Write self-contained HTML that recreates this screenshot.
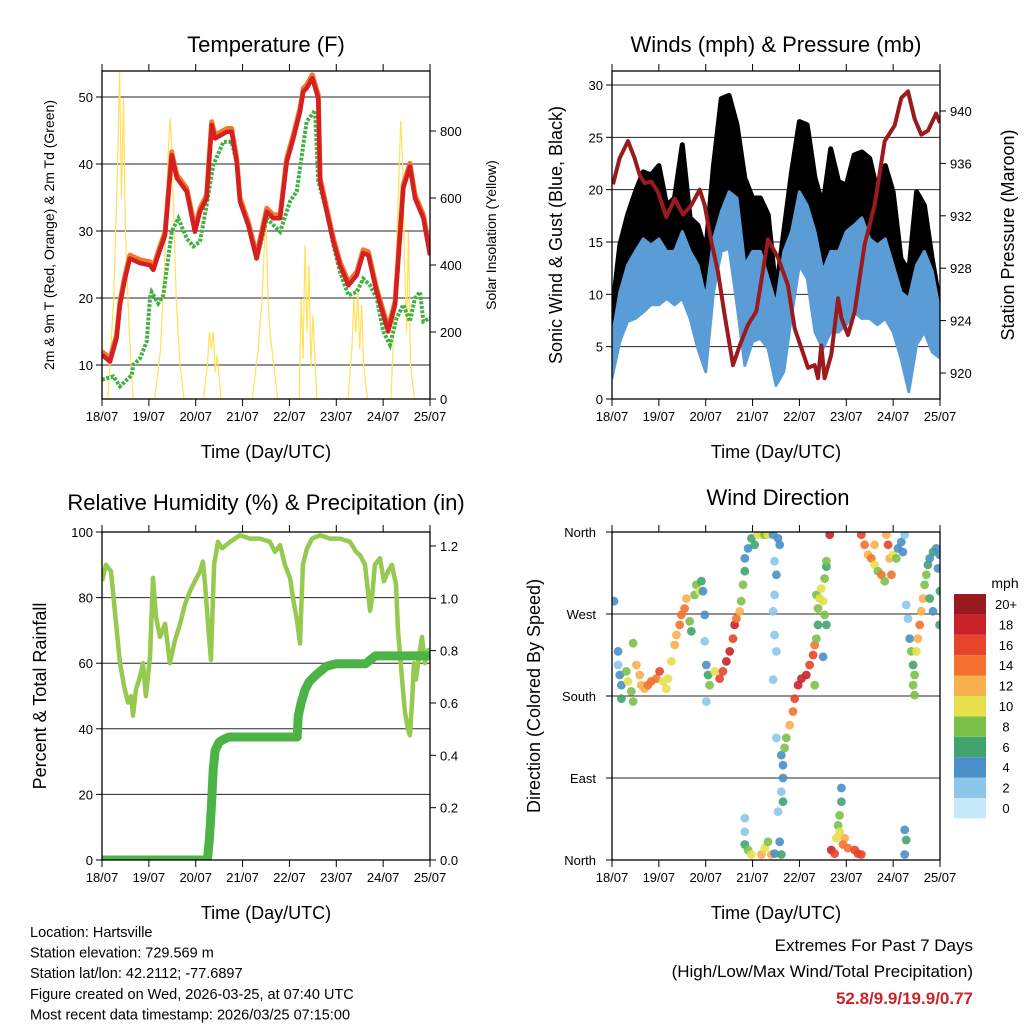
<!DOCTYPE html>
<html><head><meta charset="utf-8"><style>
body{margin:0;background:#fff}
svg{display:block;font-family:"Liberation Sans",sans-serif}
</style></head><body>
<svg id="s" width="1024" height="1024" viewBox="0 0 1024 1024" xmlns="http://www.w3.org/2000/svg">
<defs>
<clipPath id="c1"><rect x="102" y="71" width="328" height="328"/></clipPath>
<clipPath id="c2"><rect x="612" y="71" width="328" height="328"/></clipPath>
<clipPath id="c3"><rect x="102" y="532" width="328" height="328"/></clipPath>
<clipPath id="c4"><rect x="612" y="532" width="328" height="328"/></clipPath>
</defs>
</svg>
<script>
// ---- Temperature panel data ----
const tempHours=[0,4.1,7.5,9.2,11.8,14.3,19.5,24.6,26.3,28.8,32.3,35.7,38.3,43.4,47.6,50.2,53.6,56.2,57.9,63.9,66.4,69,70.7,74.9,79.2,84.4,87.7,91.2,94.6,98,101.4,103.1,104.8,107.7,110.8,111.7,115.1,118.5,121.9,126.2,130.5,133.8,136.4,140.7,146.6,150.1,154.3,157.7,160.3,164.6,168];
const tempVals=[11.5,10.5,14,19,22.9,25.9,25.2,24.9,24.2,26.4,29.4,41.3,37.9,35.9,29.9,32.9,34.9,45.8,43.8,44.8,44.8,40.3,34.4,30.9,25.9,32.9,31.9,31.9,40.3,43.8,47.8,50.8,51.3,52.8,49.8,37.4,32.9,28.4,24.9,21.9,23.4,26.7,26.4,20.9,15,19,36.4,39.6,34.9,31.9,26.4];
const dewHours=[0,5.8,9.2,15.2,16,19.5,22.9,24.6,25.4,28.8,31.4,35.7,39.1,43.4,46.8,50.2,53.6,57,62.2,66.4,69,70.7,74.9,79.2,84.4,87.7,91.2,96.3,99.7,104.8,109.1,110.8,115.1,118.5,121.9,126.2,130.5,133.8,137.3,140.7,144.1,147.5,150.9,154.3,157.7,160.3,162.9,164.6,168];
const dewVals=[7.8,8.3,6.8,8.5,10,11,13.5,20,20.9,19.2,20.4,29.9,31.9,28.9,27.7,28.4,33.9,39.9,43.3,43.3,40.3,34.4,30.9,25.7,31.9,30.9,29.9,34.4,35.9,46.3,48,37.4,32.9,27.9,23.9,20.4,20.9,22.9,21.9,20,15,13,17,19,16.5,20,20.9,16.5,17];
const solarHours=[0,3,6,8,9,10,11,12,14,16,27,30,32,34,35,36,38,40,42,52,54,55,56,57,58,59,61,77,80,82,84,85,86,88,90,101,102,103,104,105,106,107,108,110,126,128,129,130,131,132,133,134,136,148,150,152,153,154,155,156,157,158,160,168];
const solarVals=[0,0,300,700,980,600,900,500,200,0,0,150,400,750,840,700,300,100,0,0,100,200,150,200,80,130,0,0,150,300,570,300,200,100,0,0,300,120,460,200,400,100,250,0,0,150,300,200,320,150,280,100,0,0,300,650,830,700,400,200,500,100,0,0];
// ---- Wind panel data ----
const windHours=[0,4,8,12,16,20,24,28,32,36,40,44,48,52,56,60,64,68,72,76,80,84,88,92,96,100,104,108,112,116,120,124,128,132,136,140,144,148,152,156,160,164,168];
const windHi=[5.8,10.2,12.8,14.1,15.3,14.7,15.3,14.1,14.1,16,14.1,12.8,9.6,15.3,17.9,19.8,19.2,12.8,14.1,14.1,11.5,9,14.1,16,19.8,18.5,16,12.2,14.1,14.1,16,16.6,17.3,15.3,14.7,15.3,12.8,10.2,9.6,12.8,14.1,12.2,8.3];
const windLo=[2,5.5,7.4,7.7,8.3,9,9,9.6,9,9.6,7.7,4.8,2.6,10.2,14.1,14.4,9,3.2,5.5,5.8,4.8,1.3,2.6,8,12.8,11.5,6.4,4.8,6.4,6.4,7.1,8.3,7.7,7.7,7.1,7.7,6.4,3.9,0.7,5.2,6.4,4.5,3.9];
const gustHi=[8.2,14.7,17.6,19.8,21.7,21.4,22.3,18.5,19.2,24.3,17.3,16.6,14.1,22.3,28.7,29,26.2,21.1,19.2,19.2,17.6,10.2,16,21.7,26.5,26.2,21.1,18.5,23.9,20.8,20.4,23.3,23.6,23,19.8,22.3,19.8,13.4,12.2,19.8,18.5,13.4,9];
const gustLo=[5.5,7.7,9.6,11.5,12.8,12.2,12.2,11.8,11.2,11.5,9.6,7.7,3.9,14.1,17.6,19.2,13.4,5.5,9.6,10.2,7.7,3.9,4.5,12.2,18.5,18.5,10.2,8.3,11.5,9.9,11.5,14.1,12.8,11.5,9.6,12.2,11.5,7.1,3.9,9.6,9.6,7.7,6.4];
const presHours=[0.5,3.9,8.2,11.6,14.2,16.7,20.2,23.6,27.8,32.1,36.4,40.6,44.9,47.5,50.9,54.3,57.7,62,65.4,69.7,73.9,79.9,85,90.1,93.6,97,100.4,103.8,105.5,107.2,108.9,112.3,115.8,117.5,120.9,124.3,129.4,134.5,139.7,144.8,148.2,151.6,155,158.4,161.8,166,168];
const presVals=[934.4,936.4,937.7,936.4,935.1,934.5,934.6,933.8,931.9,933.3,932.1,932.8,934,932.8,930,927.7,924.4,920.6,922.1,923.7,924.7,930.2,928.8,926.7,923.4,921.9,920.4,920.6,919.6,922.1,919.6,921.4,925.7,924.2,922.9,924.7,929.8,932.8,937.7,938.9,941,941.5,939.4,938.2,938.5,939.8,939.1];
// ---- RH / precip data ----
const rhHours=[0,2,4.6,7.2,9.2,11.3,13.3,14.9,15.9,17.4,19.5,21,22.5,24.6,26.1,27.7,29.7,32.3,34.8,37.4,40,42.5,45.1,47.6,50.2,51.7,52.8,54.3,55.8,57.4,59.4,61.5,65.6,70.7,75.8,80.9,86,88.6,91.2,93.7,96.3,97.8,99.9,101.4,102.9,105,107.6,111.7,116.8,121.9,127,130.1,132.1,134.7,136.2,137.3,138.3,139.8,142.4,144.4,146.5,148.5,150.6,151.6,153.7,155.2,156.7,157.7,158.8,159.8,160.8,162.9,163.9,165.4,167,168];
const rhVals=[85,90,88,72,60,53,48,50,44,52,56,60,50,62,86,74,68,72,60,67,72,78,82,85,88,91,84,72,61,90,97,95,97,99,98,98,97,94,96,90,86,80,73,66,90,95,98,99,98,98,97,94,93,90,82,76,80,90,92,85,88,90,84,70,55,45,40,38,48,60,55,64,68,60,64,62];
const precipHours=[0,54,55,56,57,58,60,62,65,100,100.5,102,104,106,110,115,120,135,140,168];
const precipVals=[0,0,0.08,0.2,0.35,0.42,0.45,0.46,0.47,0.47,0.55,0.6,0.65,0.68,0.71,0.74,0.75,0.75,0.78,0.78];
// ---- Wind direction data ----
const dirHours=[1,3.1,3.1,4,4.8,4.8,7.3,8.2,9.9,10.8,12.5,14.2,15,16.7,18.4,20.1,22.7,24.4,26.1,27.8,28.7,10.8,30.4,32.1,33,34.7,35.5,37.2,38.1,39.8,40.6,42.3,43.2,44.9,45.8,46.6,47.5,47.5,48.3,49.2,50,48.3,52.6,55.1,56.8,58.6,60.3,62,62.8,63.7,65.4,66.2,67.1,68,68,69.7,71.4,73.1,74.8,76.5,78.2,79.9,82.5,85,85.9,83.3,84.2,83.3,82.5,83.3,84.2,82.5,84.2,86.7,87.6,87.6,86.7,85,87.6,88.4,89.3,91,92.7,93.6,95.3,97,99.5,101.2,103,103.8,104.7,105.5,105.5,104.7,106.4,107.2,108.1,108.9,109.8,108.9,109.8,109.8,103.8,108.1,111.5,127.7,129.4,131.1,132.8,134.5,136.2,138,139.7,141.4,142.2,143.1,144,145.6,146.5,148.2,149,149.9,140.5,134.5,150.7,151.6,152.5,153.3,154.2,155,154.2,155,155.9,156.7,157.6,158.4,159.3,160.1,161,161.8,162.7,164.4,166.1,167,167.8,168,167.8,162.7,164.4,68,68,68,69.7,71.4,76.5,78.2,79.9,81.6,83.3,85.9,86.7,112.3,114,117.5,117.5,116.6,115.8,116.6,119.2,118.3,120.9,124.3,126,127.7,114.9,149.9,150.7,149.9];
const dirDegs=[284,229,214,203,192,177,207,196,185,174,214,203,192,188,192,196,199,207,196,188,199,238,218,236,247,258,269,276,287,262,251,291,302,295,306,295,269,240,214,203,192,174,207,199,207,218,229,243,258,265,273,284,302,317,331,342,353,346,357,357,357,357,357,353,346,328,313,291,273,247,229,198,134,115,104,90,75,53,64,123,134,148,163,177,192,199,203,214,225,236,243,258,276,291,287,298,284,269,258,309,322,328,192,223,357,357,346,335,331,324,317,313,306,346,331,313,335,331,342,349,338,357,357,346,280,265,243,229,214,203,192,181,229,243,258,273,287,302,313,324,331,338,342,320,335,295,258,287,273,46,31,17,11,6,6,13,20,6,7,20,6,11,7,79,64,49,38,31,24,17,13,11,7,6,24,33,22,6];
const dirSpeeds=[4,4,3,4,5,6,9,10,8,9,12,13,12,12,15,15,14,16,11,10,10,8,10,12,13,14,15,15,12,9,7,8,8,10,6,4,4,3,4,7,8,2,10,16,17,18,18,17,18,15,12,8,8,6,5,5,7,7,10,11,9,10,4,4,4,3,4,3,2,3,2,2,3,4,4,4,3,2,6,8,9,12,14,17,18,19,18,17,16,14,8,6,8,9,10,11,10,9,6,8,7,8,9,4,18,16,14,12,15,11,9,14,9,16,13,15,10,9,5,5,4,3,12,12,3,2,4,8,7,9,8,9,11,13,14,13,12,9,8,6,5,6,4,4,4,6,6,7,5,3,2,6,8,11,12,10,9,13,4,4,6,18,17,4,7,8,9,11,12,14,15,16,16,17,10,4,6,5];
const speedColors=['#c6e9f9','#8cc6ea','#4a8fc8','#41a46e','#7cc04a','#e6e04c','#f8b04e','#f3722f','#e6452b','#c9222a','#9a1b1f'];
const speedLabels=['0','2','4','6','8','10','12','14','16','18','20+'];
const dayLabels=['18/07','19/07','20/07','21/07','22/07','23/07','24/07','25/07'];

const NS='http://www.w3.org/2000/svg';
const svg=document.getElementById('s');
function el(tag,attrs,parent){const e=document.createElementNS(NS,tag);for(const k in attrs)e.setAttribute(k,attrs[k]);(parent||svg).appendChild(e);return e;}
function txt(s,x,y,size,anchor,parent,extra){const t=el('text',Object.assign({x:x,y:y,'font-size':size,'text-anchor':anchor||'middle',fill:'#000'},extra||{}),parent);t.textContent=s;return t;}
function pts(xs,ys,fx,fy){return xs.map((h,i)=>fx(h).toFixed(1)+','+fy(ys[i]).toFixed(1)).join(' ');}

function xAxis(x0,yb,yt){const fx=h=>x0+h*328/168;
 for(let d=0;d<=7;d++){const x=fx(d*24);
  const t1=el('line',{x1:x,y1:yb,x2:x,y2:yb+7,stroke:'#000','stroke-width':1});
  
  
  el('line',{x1:x,y1:yt,x2:x,y2:yt-7,stroke:'#000','stroke-width':1});
  const l=txt(dayLabels[d],x,yb+22,13);
  
  
 }
 return fx;}
function frame(x0,y0,name){const r=el('rect',{x:x0,y:y0,width:328,height:328,fill:'none',stroke:'#000','stroke-width':1.3});
 
 }
function grid(x0,y,name){const g=el('line',{x1:x0,y1:y,x2:x0+328,y2:y,stroke:'#000','stroke-width':1,opacity:0.85});
 
 }
function yTick(x,y,side,label,name){const dx=side==='l'?-6:6;
 el('line',{x1:x,y1:y,x2:x+dx,y2:y,stroke:'#000','stroke-width':1});
 if(label!==null){const t=txt(label,x+(side==='l'?-9:10),y+5,13,side==='l'?'end':'start');
  
  }}
function rotLabel(s,x,y,size,name){const t=txt(s,0,0,size,'middle',svg,{transform:'translate('+x+','+y+') rotate(-90)'});
 
 }
function title(s,x,y,size,name){const t=txt(s,x,y,size||22);
 
 }

// ===== Panel 1: Temperature =====
(function(){
 const fx=h=>102+h*328/168, fy=v=>365-(v-10)*6.7, fs=w=>399-w*0.335;
 [10,20,30,40,50].forEach(v=>{grid(102,fy(v),'temp-gridline');yTick(102,fy(v),'l',String(v),'temp-y-tick-label');});
 [0,200,400,600,800].forEach(v=>yTick(430,fs(v),'r',String(v),'solar-y-tick-label'));
 const g=el('g',{'clip-path':'url(#c1)'});
 const s=el('polyline',{points:pts(solarHours,solarVals,fx,fs),fill:'none',stroke:'#ffe15a','stroke-width':1.2},g);
 
 
 const d=el('polyline',{points:pts(dewHours,dewVals,fx,fy),fill:'none',stroke:'#43b043','stroke-width':4,'stroke-dasharray':'3,1.5'},g);
 
 
 const o=el('polyline',{points:pts(tempHours,tempVals.map(v=>v+0.5),fx,fy),fill:'none',stroke:'#f07a30','stroke-width':5,'stroke-linejoin':'round'},g);
 
 
 const r=el('polyline',{points:pts(tempHours,tempVals,fx,fy),fill:'none',stroke:'#d42020','stroke-width':4.5,'stroke-linejoin':'round'},g);
 
 
 frame(102,71,'temperature-plot-frame');
 xAxis(102,399,71);
 title('Temperature (F)',266,52,22,'temperature-title');
 title('Time (Day/UTC)',266,458,18,'temperature-x-axis-title');
 rotLabel('2m & 9m T (Red, Orange) & 2m Td (Green)',54,235,14,'temperature-y-axis-title');
 rotLabel('Solar Insolation (Yellow)',496,235,14,'solar-y-axis-title');
})();

// ===== Panel 2: Winds & Pressure =====
(function(){
 const fx=h=>612+h*328/168, fy=v=>399-v*10.467, fp=p=>373-(p-920)*13.1;
 [0,5,10,15,20,25,30].forEach(v=>{if(v>0)grid(612,fy(v),'wind-gridline');yTick(612,fy(v),'l',String(v),'wind-y-tick-label');});
 [920,924,928,932,936,940].forEach(v=>yTick(940,fp(v),'r',String(v),'pressure-y-tick-label'));
 const g=el('g',{'clip-path':'url(#c2)'});
 const gp=gustHi.map((v,i)=>fx(windHours[i]).toFixed(1)+','+fy(v).toFixed(1)).concat(gustLo.map((v,i)=>fx(windHours[i]).toFixed(1)+','+fy(v).toFixed(1)).reverse()).join(' ');
 const gb=el('polygon',{points:gp,fill:'#000',stroke:'#000','stroke-width':5,'stroke-linejoin':'round'},g);
 
 
 const wp=windHi.map((v,i)=>fx(windHours[i]).toFixed(1)+','+fy(v).toFixed(1)).concat(windLo.map((v,i)=>fx(windHours[i]).toFixed(1)+','+fy(v).toFixed(1)).reverse()).join(' ');
 const wb=el('polygon',{points:wp,fill:'#5a9dd6',stroke:'#5a9dd6','stroke-width':3,'stroke-linejoin':'round'},g);
 
 
 const p=el('polyline',{points:pts(presHours,presVals,fx,fp),fill:'none',stroke:'#9a1a1e','stroke-width':4,'stroke-linejoin':'round'},g);
 
 
 frame(612,71,'winds-plot-frame');
 xAxis(612,399,71);
 title('Winds (mph) & Pressure (mb)',776,52,22,'winds-title');
 title('Time (Day/UTC)',776,458,18,'winds-x-axis-title');
 rotLabel('Sonic Wind & Gust (Blue, Black)',562,235,18,'wind-y-axis-title');
 rotLabel('Station Pressure (Maroon)',1014,235,18,'pressure-y-axis-title');
})();

// ===== Panel 3: RH & Precip =====
(function(){
 const fx=h=>102+h*328/168, fy=v=>860-v*3.28, fp=p=>860-p*261.7;
 [0,20,40,60,80,100].forEach(v=>{if(v>0&&v<100)grid(102,fy(v),'rh-gridline');yTick(102,fy(v),'l',String(v),'rh-y-tick-label');});
 [0,0.2,0.4,0.6,0.8,1.0,1.2].forEach(v=>yTick(430,fp(v),'r',v.toFixed(1),'precip-y-tick-label'));
 const g=el('g',{'clip-path':'url(#c3)'});
 const r=el('polyline',{points:pts(rhHours,rhVals,fx,fy),fill:'none',stroke:'#96c950','stroke-width':4.5,'stroke-linejoin':'round'},g);
 
 
 const p=el('polyline',{points:pts(precipHours,precipVals,fx,fp),fill:'none',stroke:'#4cb447','stroke-width':9,'stroke-linejoin':'round','stroke-linecap':'round'},g);
 
 
 frame(102,532,'rh-plot-frame');
 xAxis(102,860,532);
 title('Relative Humidity (%) & Precipitation (in)',266,510,22,'rh-title');
 title('Time (Day/UTC)',266,919,18,'rh-x-axis-title');
 rotLabel('Percent & Total Rainfall',46,696,18,'rh-y-axis-title');
})();

// ===== Panel 4: Wind Direction =====
(function(){
 const fx=h=>612+h*328/168, fy=d=>860-d*328/360;
 const dl=['North','East','South','West','North'];
 [0,90,180,270,360].forEach((d,i)=>{if(i>0&&i<4)grid(612,fy(d),'direction-gridline');
  el('line',{x1:612,y1:fy(d),x2:606,y2:fy(d),stroke:'#000'});
  const t=txt(dl[i],596,fy(d)+5,13,'end');
  
  });
 const g=el('g',{'clip-path':'url(#c4)'});
 dirHours.forEach((h,i)=>{const b=Math.min(10,Math.floor(dirSpeeds[i]/2));
  const c=el('circle',{cx:fx(h).toFixed(1),cy:fy(dirDegs[i]).toFixed(1),r:4.4,fill:speedColors[b],'fill-opacity':0.9},g);
  
  });
 frame(612,532,'direction-plot-frame');
 xAxis(612,860,532);
 title('Wind Direction',778,505,22,'direction-title');
 title('Time (Day/UTC)',776,919,18,'direction-x-axis-title');
 rotLabel('Direction (Colored By Speed)',540,696,18,'direction-y-axis-title');
 const t=txt('mph',1005,588,14);
 
 
 speedColors.forEach((c,i)=>{const y=798-i*20.4;
  const r=el('rect',{x:954,y:y,width:32,height:20.4,fill:c});
  
  
  const l=txt(speedLabels[i],1006,y+15,13,'middle');
  
  });
})();

// ===== Footer =====
['Location: Hartsville','Station elevation: 729.569 m','Station lat/lon: 42.2112; -77.6897','Figure created on Wed, 2026-03-25, at 07:40 UTC','Most recent data timestamp: 2026/03/25 07:15:00'].forEach((s,i)=>{
 const t=txt(s,30,937+i*20.6,14.5,'start');
 
 });
(function(){
 const a=txt('Extremes For Past 7 Days',973,951,17,'end');
 
 
 const b=txt('(High/Low/Max Wind/Total Precipitation)',973,977,17,'end');
 
 
 const c=txt('52.8/9.9/19.9/0.77',973,1004,17,'end',svg,{fill:'#c8242b','font-weight':'bold'});
 
 
})();
</script>
</body></html>
